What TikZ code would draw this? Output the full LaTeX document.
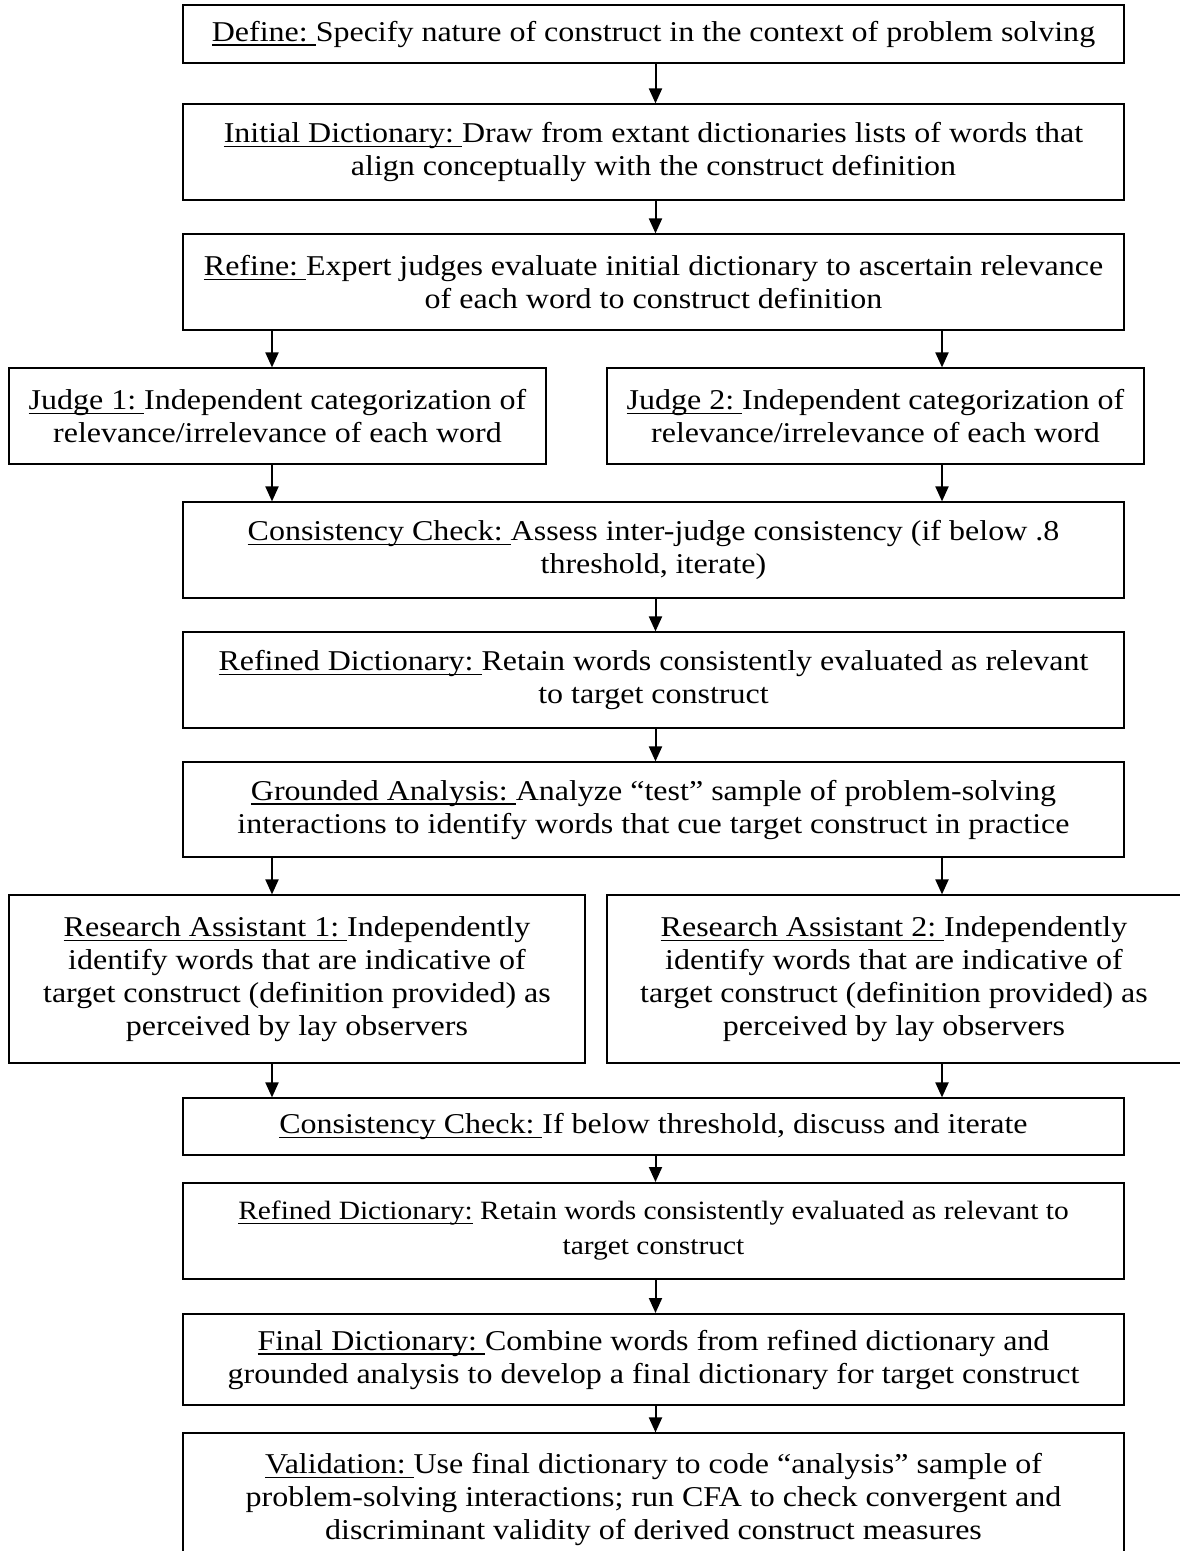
\documentclass[tikz,border=0pt]{standalone}
\usepackage{fontspec}
\setmainfont{Liberation Serif}[FakeStretch=1.115]
\usetikzlibrary{arrows.meta}
\newcommand\ulab[1]{\setbox0=\hbox{#1}\rlap{\rule[-0.16em]{\wd0}{0.05em}}\box0\relax}
\begin{document}
\begin{tikzpicture}[x=1pt,y=-1pt,
  box/.style={draw=black, line width=1.2pt, align=center, inner sep=0pt,
    font=\fontsize{28.7}{33}\selectfont},
  thickbox/.style={box, line width=2pt},
  arr/.style={-{Triangle[length=15pt,width=13pt]}, line width=2pt}]
\useasboundingbox (0,0) rectangle (1180,1551);
\fill[white] (0,0) rectangle (1180,1551);

\coordinate (xL) at (272,0);
\coordinate (xR) at (942,0);
\coordinate (xC) at (655.5,0);

\node[box, minimum width=941pt, minimum height=58pt] (define) at (653.5,34)
  {\ulab{Define:\ }Specify nature of construct in the context of problem solving};
\node[box, minimum width=941pt, minimum height=96pt] (initial) at (653.5,152)
  {\ulab{Initial Dictionary:\ }Draw from extant dictionaries lists of words that\\align conceptually with the construct definition};
\node[box, minimum width=941pt, minimum height=96pt] (refine) at (653.5,282)
  {\ulab{Refine:\ }Expert judges evaluate initial dictionary to ascertain relevance\\of each word to construct definition};
\node[box, minimum width=537pt, minimum height=96pt] (j1) at (277.5,416)
  {\ulab{Judge 1:\ }Independent categorization of\\relevance/irrelevance of each word};
\node[box, minimum width=537pt, minimum height=96pt] (j2) at (875.5,416)
  {\ulab{Judge 2:\ }Independent categorization of\\relevance/irrelevance of each word};
\node[box, minimum width=941pt, minimum height=96pt] (cc1) at (653.5,550)
  {\ulab{Consistency Check:\ }Assess inter-judge consistency (if below .8\\threshold, iterate)};
\node[box, minimum width=941pt, minimum height=96pt] (rd1) at (653.5,680)
  {\ulab{Refined Dictionary:\ }Retain words consistently evaluated as relevant\\to target construct};
\node[box, minimum width=941pt, minimum height=95pt] (ga) at (653.5,809.5)
  {\ulab{Grounded Analysis:\ }Analyze “test” sample of problem-solving\\interactions to identify words that cue target construct in practice};
\node[box, minimum width=576pt, minimum height=168pt] (ra1) at (297,979)
  {\ulab{Research Assistant 1:\ }Independently\\identify words that are indicative of\\target construct (definition provided) as\\perceived by lay observers};
\node[box, minimum width=574pt, minimum height=168pt] (ra2) at (894,979)
  {\ulab{Research Assistant 2:\ }Independently\\identify words that are indicative of\\target construct (definition provided) as\\perceived by lay observers};
\node[box, minimum width=941pt, minimum height=57pt] (cc2) at (653.5,1126.5)
  {\ulab{Consistency Check:\ }If below threshold, discuss and iterate};
\node[thickbox, minimum width=941pt, minimum height=96pt, font=\fontsize{26.4}{35}\selectfont] (rd2) at (653.5,1231)
  {\ulab{Refined Dictionary:} Retain words consistently evaluated as relevant to\\target construct};
\node[thickbox, minimum width=941pt, minimum height=91pt] (final) at (653.5,1359.5)
  {\ulab{Final Dictionary:\ }Combine words from refined dictionary and\\grounded analysis to develop a final dictionary for target construct};
\node[box, minimum width=941pt, minimum height=133pt] (valid) at (653.5,1499.5)
  {\ulab{Validation:\ }Use final dictionary to code “analysis” sample of\\problem-solving interactions; run CFA to check convergent and\\discriminant validity of derived construct measures};

\draw[arr] (define.south -| xC) -- (initial.north -| xC);
\draw[arr] (initial.south -| xC) -- (refine.north -| xC);
\draw[arr] (refine.south -| xL) -- (j1.north -| xL);
\draw[arr] (refine.south -| xR) -- (j2.north -| xR);
\draw[arr] (j1.south -| xL) -- (cc1.north -| xL);
\draw[arr] (j2.south -| xR) -- (cc1.north -| xR);
\draw[arr] (cc1.south -| xC) -- (rd1.north -| xC);
\draw[arr] (rd1.south -| xC) -- (ga.north -| xC);
\draw[arr] (ga.south -| xL) -- (ra1.north -| xL);
\draw[arr] (ga.south -| xR) -- (ra2.north -| xR);
\draw[arr] (ra1.south -| xL) -- (cc2.north -| xL);
\draw[arr] (ra2.south -| xR) -- (cc2.north -| xR);
\draw[arr] (cc2.south -| xC) -- (rd2.north -| xC);
\draw[arr] (rd2.south -| xC) -- (final.north -| xC);
\draw[arr] (final.south -| xC) -- (valid.north -| xC);
\end{tikzpicture}
\end{document}
